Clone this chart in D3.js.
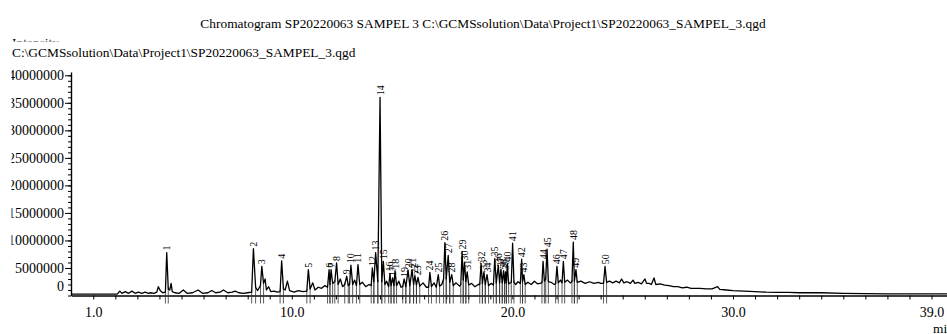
<!DOCTYPE html>
<html>
<head>
<meta charset="utf-8">
<script src="https://cdn.jsdelivr.net/npm/d3@7"></script>
<style>
  html, body { margin: 0; padding: 0; background: #fff; }
  svg { display: block; font-family: "Liberation Serif", "Times New Roman", serif; }
</style>
</head>
<body>
<svg id="chart" width="947" height="334"></svg>
<script>
const titleText = "Chromatogram SP20220063 SAMPEL 3 C:\\GCMSsolution\\Data\\Project1\\SP20220063_SAMPEL_3.qgd";
const fileText  = "C:\\GCMSsolution\\Data\\Project1\\SP20220063_SAMPEL_3.qgd";
const yLabel    = "Intensity";
const xUnit     = "min";

const yTickValues = [0, 5000000, 10000000, 15000000, 20000000, 25000000, 30000000, 35000000, 40000000];
const xTickLabels = [1, 10, 20, 30, 39];

// labelled peaks: number, retention time (min), height (x 1e6 counts)
const peakNo = [1,2,3,4,5,6,7,8,9,10,11,12,13,14,15,16,17,18,19,20,21,22,23,24,25,
                26,27,28,29,30,31,32,33,34,35,36,37,38,39,40,41,42,43,44,45,46,47,48,49,50];
const peakTime = [4.33,8.26,8.64,9.54,10.75,11.69,11.78,12.03,12.49,12.68,13.00,13.65,13.80,14.00,14.15,
                  14.45,14.57,14.68,15.09,15.27,15.45,15.58,15.72,16.26,16.64,16.94,17.09,17.25,17.72,17.83,
                  17.95,18.58,18.71,18.85,19.20,19.36,19.48,19.60,19.69,19.77,20.01,20.42,20.52,21.39,21.57,
                  22.02,22.31,22.76,22.88,24.20];
const peakHeight = [7.8,8.5,5.3,6.3,4.7,4.7,4.7,5.9,3.5,5.5,5.6,5.0,7.8,36.0,6.2,
                    4.0,3.2,4.5,3.0,4.6,4.7,3.6,3.3,4.2,3.8,9.6,7.3,3.8,8.0,6.0,
                    4.3,5.8,4.3,3.8,6.7,5.5,4.8,4.5,4.3,5.8,9.5,6.6,3.8,6.2,8.4,
                    5.3,6.2,9.7,4.7,5.3];

// rest of the trace (baseline, small unlabelled peaks), time (min) / intensity (x 1e6)
const traceRest = [
  [0,0.25],[1,0.25],[2.05,0.25],[2.1,0.3],[2.2,0.8],[2.3,0.4],[2.45,0.7],[2.6,0.4],[2.75,0.8],[2.9,0.4],
  [3.05,0.6],[3.2,0.4],[3.35,0.6],[3.5,0.4],[3.6,0.5],[3.75,0.4],[3.88,0.6],[3.95,1.6],[4.05,0.8],[4.15,0.5],
  [4.27,0.6],[4.40,1.2],[4.47,1.0],[4.53,2.2],[4.58,0.7],[4.7,0.5],[4.9,0.4],[5.08,1.0],[5.25,0.4],[5.5,0.5],
  [5.75,1.0],[5.95,0.4],[6.2,0.5],[6.37,0.9],[6.55,0.5],[6.75,0.6],[6.9,1.0],[7.1,0.5],[7.3,0.6],[7.43,0.8],
  [7.6,0.5],[7.8,0.4],[8.0,0.5],[8.18,0.6],[8.36,1.5],[8.45,0.9],[8.58,1.8],[8.72,2.2],[8.79,3.0],[8.85,1.0],
  [8.95,1.6],[9.05,0.7],[9.2,0.8],[9.35,0.6],[9.47,0.7],[9.62,1.2],[9.7,1.0],[9.8,2.6],[9.9,0.9],[10.1,0.6],
  [10.3,0.9],[10.5,0.7],[10.68,0.8],[10.83,1.2],[10.95,2.3],[11.05,1.0],[11.2,1.5],[11.35,1.3],[11.5,1.8],[11.62,1.5],
  [11.73,2.0],[11.85,2.2],[11.95,2.5],[12.1,2.0],[12.2,3.0],[12.3,1.6],[12.4,2.0],[12.56,1.8],[12.62,2.0],[12.76,2.0],
  [12.85,2.8],[12.93,1.8],[13.08,2.0],[13.2,2.4],[13.35,1.6],[13.5,2.0],[13.6,1.8],[13.72,2.5],[13.9,2.5],[14.08,2.5],
  [14.22,2.0],[14.3,2.6],[14.39,1.6],[14.5,1.8],[14.63,1.8],[14.75,1.8],[14.85,2.6],[14.95,1.5],[15.03,1.6],[15.17,1.6],
  [15.35,1.8],[15.52,2.0],[15.65,1.9],[15.8,1.7],[15.95,2.3],[16.1,1.5],[16.2,1.5],[16.33,1.6],[16.45,2.3],[16.55,1.5],
  [16.7,1.7],[16.8,2.0],[16.88,3.0],[17.0,3.0],[17.16,2.4],[17.32,1.8],[17.45,2.3],[17.6,1.7],[17.66,2.0],[17.77,2.8],
  [17.89,2.5],[18.02,1.9],[18.15,2.2],[18.3,1.6],[18.45,2.0],[18.52,2.0],[18.64,2.2],[18.77,2.0],[18.92,1.8],[19.05,2.2],
  [19.14,1.9],[19.27,2.3],[19.42,2.3],[19.54,2.3],[19.65,2.2],[19.73,2.3],[19.83,2.1],[19.95,2.4],[20.07,2.4],[20.15,2.0],
  [20.25,2.5],[20.36,2.2],[20.46,2.5],[20.58,2.0],[20.7,2.4],[20.85,2.0],[21.0,2.6],[21.15,2.1],[21.34,2.3],[21.45,2.6],
  [21.51,3.0],[21.63,2.5],[21.75,2.4],[21.9,2.0],[21.96,2.2],[22.08,2.3],[22.18,2.8],[22.25,2.3],[22.37,2.4],[22.5,2.8],
  [22.62,2.3],[22.7,2.5],[22.81,2.6],[22.94,2.4],[23.1,2.6],[23.3,2.2],[23.5,2.5],[23.7,2.2],[23.9,2.4],[24.0,2.2],
  [24.13,2.2],[24.27,2.4],[24.4,2.6],[24.55,2.3],[24.7,2.6],[24.85,2.3],[24.95,3.0],[25.05,2.3],[25.2,2.5],[25.35,2.2],
  [25.47,2.8],[25.55,2.2],[25.7,2.4],[25.85,2.1],[26.01,3.0],[26.08,2.2],[26.2,2.2],[26.3,2.0],[26.42,3.2],[26.5,2.0],
  [26.7,2.1],[26.9,1.9],[27.1,1.8],[27.3,1.6],[27.5,1.6],[27.7,1.4],[27.9,1.5],[28.1,1.3],[28.3,1.3],[28.5,1.3],
  [28.8,1.2],[29.05,1.2],[29.3,1.6],[29.4,1.1],[29.7,1.0],[30.0,0.9],[30.5,0.8],[31.0,0.7],[31.5,0.6],[32.0,0.55],
  [32.5,0.55],[33.0,0.5],[34.0,0.5],[35.0,0.4],[36.0,0.35],[37.0,0.3],[38.0,0.3],[39.7,0.3]
];

/* ===== build ===== */
const svg = d3.select("#chart");

const x = d3.scaleLinear().domain([0, 39.7]).range([71.2, 71.2 + 22.06 * 39.7]);
const y = d3.scaleLinear().domain([0, 40.6e6]).range([295.5, 72]);

const peaks = peakNo.map((n, i) => ({ no: n, t: peakTime[i], v: peakHeight[i] }));
const trace = traceRest.map(d => ({ t: d[0], v: d[1] }))
  .concat(peaks.map(p => ({ t: p.t, v: p.v, peak: p.no })))
  .sort((a, b) => a.t - b.t);

// titles (Intensity is partly hidden under the file line, as on the print-out)
svg.append("text").attr("x", 483).attr("y", 28).attr("text-anchor", "middle")
  .style("font-size", "13.4px").text(titleText);
svg.append("text").attr("x", 12).attr("y", 47).style("font-size", "13.4px").text(yLabel);
svg.append("rect").attr("x", 0).attr("y", 41.5).attr("width", 420).attr("height", 20).attr("fill", "#fff");
svg.append("text").attr("x", 12).attr("y", 57).style("font-size", "13.4px").text(fileText);

// y axis: minor + major
svg.append("g").attr("transform", "translate(71,0)")
  .call(d3.axisLeft(y).tickValues(d3.range(0, 40.5e6, 1e6)).tickSize(3).tickFormat("").tickSizeOuter(0))
  .call(g => g.select(".domain").remove())
  .selectAll("line").attr("stroke", "#000");
const yAx = svg.append("g").attr("transform", "translate(71,0)")
  .call(d3.axisLeft(y).tickValues(yTickValues).tickSize(6).tickPadding(1).tickFormat(d3.format("d")).tickSizeOuter(0));
yAx.select(".domain").attr("stroke", "#000").attr("stroke-width", 1.4);
yAx.selectAll("text").style("font-size", "14px").style("font-family", "Liberation Serif").attr("fill", "#000");
yAx.selectAll(".tick").filter(d => d === 0).select("text").attr("y", -9);
yAx.selectAll(".tick").filter(d => d === 0).select("line").remove();

// x axis
const xAx = svg.append("g").attr("transform", `translate(0,${y(0)})`)
  .call(d3.axisBottom(x).tickValues(d3.range(1, 40, 1)).tickSize(4).tickPadding(8).tickSizeOuter(0)
    .tickFormat(d => xTickLabels.includes(d) ? d3.format(".1f")(d) : ""));
xAx.select(".domain").attr("stroke", "#000").attr("stroke-width", 1.6);
xAx.selectAll("line").attr("stroke", "#000");
xAx.selectAll("text").style("font-size", "14px").style("font-family", "Liberation Serif").attr("fill", "#000");
svg.append("text").attr("x", 933).attr("y", 333).style("font-size", "13.4px").text(xUnit);

// integration markers at peak start / end (neighbouring trace points)
const marks = [];
trace.forEach((d, i) => {
  if (d.peak) {
    if (trace[i - 1]) marks.push(trace[i - 1]);
    if (trace[i + 1]) marks.push(trace[i + 1]);
  }
});
svg.append("g").selectAll("line").data(marks).join("line")
  .attr("x1", d => x(d.t)).attr("x2", d => x(d.t))
  .attr("y1", d => y(d.v * 1e6) - 2).attr("y2", y(0) + 8)
  .attr("stroke", "#333").attr("stroke-width", 0.8);

// chromatogram trace
svg.append("path").datum(trace)
  .attr("d", d3.line().x(d => x(d.t)).y(d => y(d.v * 1e6)))
  .attr("fill", "none").attr("stroke", "#000").attr("stroke-width", 1.3)
  .attr("stroke-linejoin", "round");

// peak numbers (vertical)
svg.append("g").selectAll("text").data(peaks).join("text")
  .attr("transform", d => `translate(${x(d.t) + 3.5},${y(d.v * 1e6) - 2}) rotate(-90)`)
  .style("font-size", "10px").attr("fill", "#000")
  .text(d => d.no);

// left crop edge of the print-out
svg.append("rect").attr("x", 0).attr("y", 30).attr("width", 11.5).attr("height", 280).attr("fill", "#fff");
</script>
</body>
</html>
